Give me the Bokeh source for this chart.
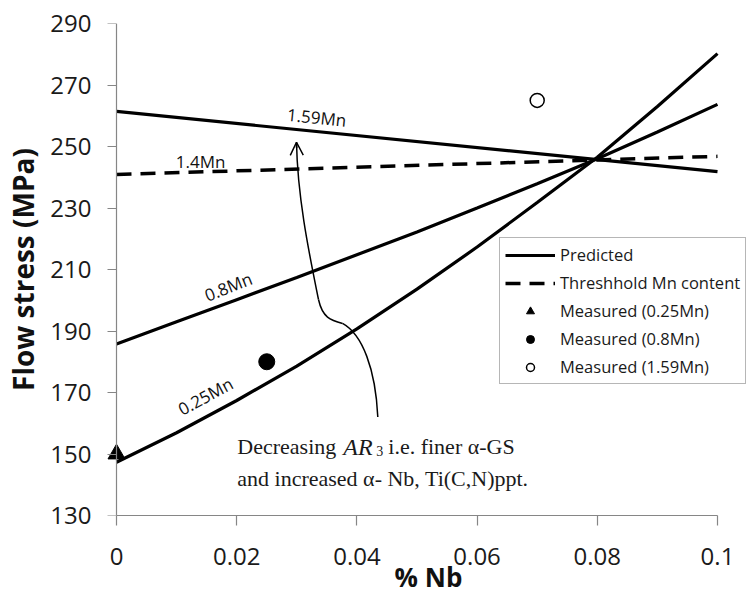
from bokeh.plotting import figure
from bokeh.models import (Range1d, Legend, LegendItem, Label, Arrow, OpenHead,
                          FixedTicker, ColumnDataSource, LinearAxis)
from bokeh.core.properties import value
from bokeh.embed import file_html
from bokeh.resources import INLINE

# ---------------- data ----------------
NB = [0.0, 0.01, 0.02, 0.03, 0.04, 0.05, 0.06, 0.07, 0.08, 0.09, 0.10]
FS_025MN = [147.3, 156.9, 167.4, 178.6, 190.7, 203.6, 217.3, 231.8, 246.5, 263.0, 280.2]
FS_08MN = [185.8, 193.0, 200.2, 207.4, 214.8, 222.2, 230.0, 237.9, 246.0, 254.7, 263.7]
NB_END = [0.0, 0.10]
FS_159MN = [261.4, 241.8]
FS_14MN = [240.9, 246.8]

MEAS_025_NB, MEAS_025_FS = [0.0], [150.0]
MEAS_08_NB, MEAS_08_FS = [0.025], [180.0]
MEAS_159_NB, MEAS_159_FS = [0.07], [265.0]

XTICKS = [0.0, 0.02, 0.04, 0.06, 0.08, 0.1]
XTICK_LABELS = ["0", "0.02", "0.04", "0.06", "0.08", "0.1"]
YTICKS = [130, 150, 170, 190, 210, 230, 250, 270, 290]

LINE_LABELS = ["1.59Mn", "1.4Mn", "0.8Mn", "0.25Mn"]
LINE_LABEL_X = [0.0333, 0.0140, 0.0186, 0.0148]
LINE_LABEL_Y = [259.5, 245.2, 204.4, 168.8]
LINE_LABEL_ANGLE = [-0.100, 0.0, 0.38, 0.50]

# ---------------- figure ----------------
# frame widened a little past the axes so that the markers at x=0 and the
# legend are not clipped; the axis rules are pinned to the data extent
p = figure(width=750, height=597, x_range=Range1d(-0.001664, 0.105491),
           y_range=Range1d(130, 290),
           output_backend="svg", toolbar_location=None,
           min_border_left=106, min_border_right=0, min_border_top=23, min_border_bottom=80)
p.background_fill_color = "white"
p.border_fill_color = "white"
p.outline_line_color = None
p.xgrid.grid_line_color = None
p.ygrid.grid_line_color = None

AX_COL = "#868686"
for ax in (p.xaxis[0], p.yaxis[0]):
    ax.axis_line_color = AX_COL
    ax.axis_line_width = 1.2
    ax.major_tick_line_color = AX_COL
    ax.major_tick_line_width = 1.2
    ax.minor_tick_line_color = None
    ax.major_tick_in = 0
    ax.major_label_text_font = "Open Sans"
    ax.major_label_text_font_size = "24px"
    ax.major_label_text_color = "#1a1a1a"
    ax.axis_label_text_font = "Open Sans"
    ax.axis_label_text_font_style = "bold"
    ax.axis_label_text_font_size = "26px"
    ax.axis_label_text_color = "#111111"

p.xaxis.ticker = FixedTicker(ticks=XTICKS)
p.xaxis.major_label_overrides = dict(zip(XTICKS, XTICK_LABELS))
p.xaxis.bounds = (0, 0.1)
p.xaxis.major_tick_out = 10
p.xaxis.major_label_standoff = 22
p.xaxis.axis_label = "% Nb"
p.xaxis.axis_label_standoff = -9

# y rule + ticks pinned at x = 0
p.yaxis.ticker = FixedTicker(ticks=YTICKS)
p.yaxis.fixed_location = 0
p.yaxis.major_tick_out = 9
p.yaxis.major_label_text_alpha = 0

# y tick labels + title in the left panel
ylab = LinearAxis(ticker=FixedTicker(ticks=YTICKS), axis_line_color=None,
                  major_tick_line_color=None, minor_tick_line_color=None,
                  major_tick_in=0, major_tick_out=0, major_label_standoff=15,
                  major_label_text_font="Open Sans", major_label_text_font_size="24px",
                  major_label_text_color="#1a1a1a",
                  axis_label="Flow stress (MPa)", axis_label_standoff=5,
                  axis_label_text_font="Open Sans", axis_label_text_font_style="bold",
                  axis_label_text_font_size="28px", axis_label_text_color="#111111")
p.add_layout(ylab, "left")

# ---------------- predicted lines ----------------
r159 = p.line(NB_END, FS_159MN, line_color="black", line_width=3.2)
r08 = p.line(NB, FS_08MN, line_color="black", line_width=3.2)
r025 = p.line(NB, FS_025MN, line_color="black", line_width=3.2)
r14 = p.line(NB_END, FS_14MN, line_color="black", line_width=3.5, line_dash="15 9")

# ---------------- measured points ----------------
m025 = p.scatter(MEAS_025_NB, MEAS_025_FS, marker="triangle", size=17,
                 fill_color="black", line_color="black")
m08 = p.scatter(MEAS_08_NB, MEAS_08_FS, marker="circle", size=16,
                fill_color="black", line_color="black")
m159 = p.scatter(MEAS_159_NB, MEAS_159_FS, marker="circle", size=14,
                 fill_color="white", line_color="black", line_width=1.5)

# ---------------- line labels ----------------
lab_src = ColumnDataSource(dict(x=LINE_LABEL_X, y=LINE_LABEL_Y, t=LINE_LABELS, a=LINE_LABEL_ANGLE))
p.text(x="x", y="y", text="t", angle="a", source=lab_src, text_font=value("Open Sans"),
       text_font_size="17px", text_align="center", text_baseline="middle", text_color="#111111")

# ---------------- curved arrow annotation ----------------
BEZ_X0 = [0.04348, 0.03761, 0.03361]
BEZ_Y0 = [162.06, 192.47, 200.24]
BEZ_CX0 = [0.04310, 0.03561, 0.03228]
BEZ_CY0 = [177.58, 193.44, 213.19]
BEZ_CX1 = [0.04093, 0.03428, 0.03012]
BEZ_CY1 = [188.91, 194.41, 232.61]
BEZ_X1 = [0.03761, 0.03361, 0.02995]
BEZ_Y1 = [192.47, 200.24, 251.38]
p.bezier(x0=BEZ_X0, y0=BEZ_Y0, x1=BEZ_X1, y1=BEZ_Y1, cx0=BEZ_CX0, cy0=BEZ_CY0,
         cx1=BEZ_CX1, cy1=BEZ_CY1, line_color="black", line_width=1.5)
p.add_layout(Arrow(end=OpenHead(size=13, line_width=1.5, line_color="black"),
                   x_start=0.02997, y_start=249.5, x_end=0.02995, y_end=251.38,
                   line_color="black", line_width=1.5))

# ---------------- annotation text ----------------
TX, TY1, TY2 = 0.0201, 152.3, 141.9
serif = "Liberation Serif"
def lab(text, dx, y, size="22px", style="normal", dy=0):
    p.add_layout(Label(x=TX, y=y, x_offset=dx, y_offset=dy, text=text, text_font=serif,
                       text_font_size=size, text_font_style=style, text_color="#1a1a1a",
                       text_baseline="alphabetic", text_align="left"))
lab("Decreasing", 0, TY1)
lab("AR", 106, TY1, size="24px", style="italic")
lab("3", 139, TY1, size="14px", dy=-4)
lab("i.e. finer \u03b1-GS", 151, TY1)
lab("and increased \u03b1- Nb, Ti(C,N)ppt.", 0, TY2)

# ---------------- legend ----------------
legend = Legend(items=[
    LegendItem(label="Predicted", renderers=[r159]),
    LegendItem(label="Threshhold Mn content", renderers=[r14]),
    LegendItem(label="Measured (0.25Mn)", renderers=[m025]),
    LegendItem(label="Measured (0.8Mn)", renderers=[m08]),
    LegendItem(label="Measured (1.59Mn)", renderers=[m159]),
], location=(393, 131), orientation="vertical")
legend.label_text_font = "Open Sans"
legend.label_text_font_size = "16.5px"
legend.label_text_color = "#1a1a1a"
legend.glyph_width = 50
legend.glyph_height = 20
legend.label_height = 20
legend.label_standoff = 5
legend.spacing = 5
legend.padding = 5
legend.margin = 0
legend.border_line_color = "#6e6e6e"
legend.border_line_width = 1.2
legend.background_fill_color = "white"
legend.background_fill_alpha = 1.0
p.add_layout(legend, "center")

open("out.html", "w").write(file_html(p, INLINE))
